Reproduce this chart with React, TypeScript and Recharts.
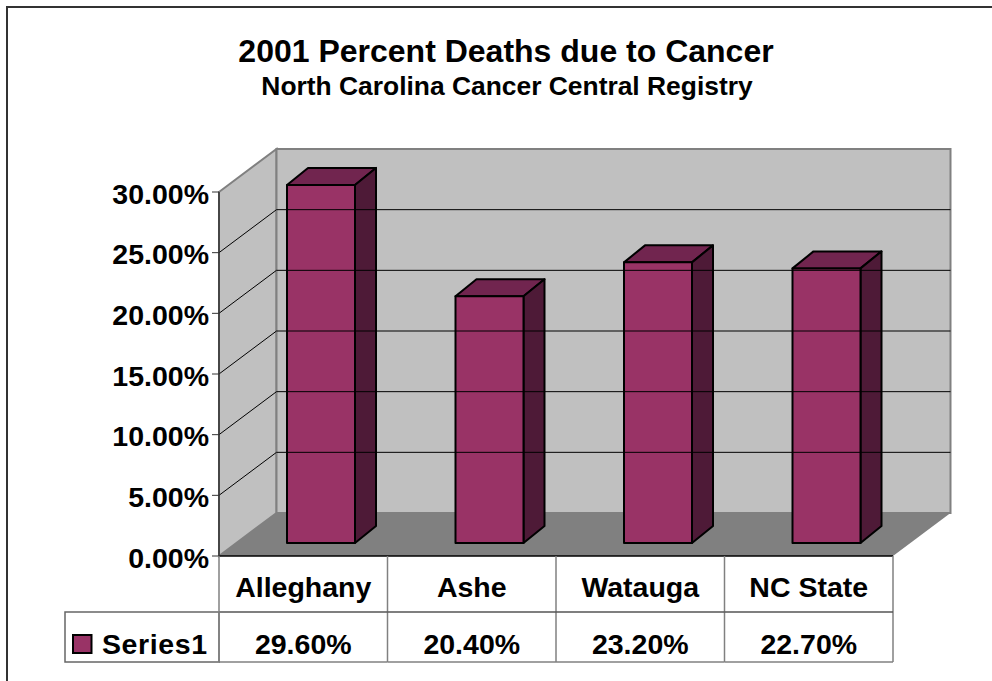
import { BarChart, Bar, XAxis, YAxis, ReferenceArea, ReferenceLine } from 'recharts';

const categories = ['Alleghany', 'Ashe', 'Watauga', 'NC State'];
const seriesValues = [0.296, 0.204, 0.232, 0.227];
const valueTicks = [0, 0.05, 0.1, 0.15, 0.2, 0.25, 0.3];
const seriesName = 'Series1';

const data = categories.map((name, i) => ({ name, value: seriesValues[i] }));

const FONT = '"Liberation Sans", Arial, sans-serif';
const pct = (v: number) => `${(v * 100).toFixed(2)}%`;

// fake 3d depth of the box, and where the bars sit inside of it
const DX = 57.5;
const DY = 43;
const BAR_DX = 18;
const BAR_DY = 13;
const BAR_DEPTH_X = 21;
const BAR_DEPTH_Y = 17;
// bars sit deeper than the front plane so they come out a touch shorter
const BAR_FORESHORTEN = 0.997;

const ROW1_H = 56;
const ROW2_H = 50;
const TABLE_LEFT = 65;

function WallsShape({ x, y, width, height }: any) {
  const bottom = y + height;
  const right = x + width;
  return (
    <g>
      <polygon points={`${x},${y} ${x + DX},${y - DY} ${x + DX},${bottom - DY} ${x},${bottom}`} fill="#c0c0c0" stroke="#808080" strokeWidth={2} />
      <rect x={x + DX} y={y - DY} width={width} height={height} fill="#c0c0c0" stroke="#808080" strokeWidth={2} />
      <polygon points={`${x},${bottom} ${right},${bottom} ${right + DX},${bottom - DY} ${x + DX},${bottom - DY}`} fill="#808080" />
    </g>
  );
}

function GridShape({ x1, y1, x2 }: any) {
  return (
    <polyline
      points={`${x1},${y1} ${x1 + DX},${y1 - DY} ${x2 + DX},${y1 - DY}`}
      fill="none"
      stroke="#000"
      strokeWidth={1}
    />
  );
}

function Bar3D({ x, y, width, height }: any) {
  const h = height * BAR_FORESHORTEN;
  const l = x + BAR_DX;
  const b = y + height - BAR_DY;
  const t = b - h;
  const r = l + width;
  return (
    <g stroke="#000" strokeWidth={2} strokeLinejoin="round">
      <polygon points={`${l},${t} ${l + BAR_DEPTH_X},${t - BAR_DEPTH_Y} ${r + BAR_DEPTH_X},${t - BAR_DEPTH_Y} ${r},${t}`} fill="#71254f" />
      <polygon points={`${r},${t} ${r + BAR_DEPTH_X},${t - BAR_DEPTH_Y} ${r + BAR_DEPTH_X},${b - BAR_DEPTH_Y} ${r},${b}`} fill="#4e1a37" />
      <rect x={l} y={t} width={width} height={h} fill="#993366" />
    </g>
  );
}

function TableTick({ x, y, payload, index, band }: any) {
  const left = x - band / 2;
  const right = x + band / 2;
  const textProps = { fontFamily: FONT, fontWeight: 700, fontSize: 28.5, fill: '#000', textAnchor: 'middle' as const };
  return (
    <g>
      <text {...textProps} x={x} y={y + 41}>{payload.value}</text>
      <text {...textProps} x={x} y={y + 98}>{pct(seriesValues[index])}</text>
      <line x1={right} y1={y} x2={right} y2={y + ROW1_H + ROW2_H} stroke="#808080" strokeWidth={1.5} />
      <line x1={left} y1={y + ROW1_H} x2={right} y2={y + ROW1_H} stroke="#555" strokeWidth={1.5} />
      <line x1={left} y1={y + ROW1_H + ROW2_H} x2={right} y2={y + ROW1_H + ROW2_H} stroke="#808080" strokeWidth={1.5} />
      {index === 0 && (
        <g>
          <rect
            x={TABLE_LEFT}
            y={y + ROW1_H}
            width={left - TABLE_LEFT}
            height={ROW2_H}
            fill="none"
            stroke="#666"
            strokeWidth={1.5}
          />
          <line x1={left} y1={y} x2={left} y2={y + ROW1_H + ROW2_H} stroke="#808080" strokeWidth={1.5} />
          <rect x={73} y={y + 79} width={18.5} height={18} fill="#993366" stroke="#000" strokeWidth={2} />
          <text {...textProps} textAnchor="start" letterSpacing={0.6} x={102} y={y + 98}>{seriesName}</text>
        </g>
      )}
    </g>
  );
}

export default function App() {
  const band = 674 / categories.length;
  return (
    <div style={{ position: 'absolute', left: 0, top: 0, width: 992, height: 681, background: '#fff', overflow: 'hidden' }}>
      <div style={{ position: 'absolute', left: 6, top: 6, width: 1000, height: 700, border: '2px solid #333', boxSizing: 'border-box' }} />
      <div style={{ position: 'absolute', left: 0, top: 34, width: 1012, textAlign: 'center', fontFamily: FONT, fontWeight: 700, fontSize: 32, color: '#000', lineHeight: '34px' }}>
        2001 Percent Deaths due to Cancer
      </div>
      <div style={{ position: 'absolute', left: 0, top: 72, width: 1014, textAlign: 'center', fontFamily: FONT, fontWeight: 700, fontSize: 26.4, color: '#000', lineHeight: '28px' }}>
        North Carolina Cancer Central Registry
      </div>
      <BarChart
        width={992}
        height={681}
        data={data}
        margin={{ top: 192, right: 99, bottom: 0, left: 0 }}
        style={{ position: 'absolute', left: 0, top: 0 }}
      >
        <XAxis
          dataKey="name"
          axisLine={{ stroke: '#000', strokeWidth: 1.5 }}
          tickLine={false}
          tickSize={0}
          height={125}
          interval={0}
          tick={(p: any) => <TableTick {...p} band={band} />}
          tickMargin={0}
        />
        <YAxis
          domain={[0, 0.3]}
          ticks={valueTicks}
          tickFormatter={pct}
          width={219}
          axisLine={{ stroke: '#333', strokeWidth: 1.5 }}
          tickLine={{ stroke: '#333', strokeWidth: 1 }}
          tickSize={7}
          tickMargin={3}
          tick={{ fontFamily: FONT, fontWeight: 700, fontSize: 28.5, fill: '#000', dy: 1.5 }}
          interval={0}
        />
        <ReferenceArea y1={0} y2={0.3} shape={<WallsShape />} ifOverflow="visible" />
        {valueTicks.slice(1, -1).map((t) => (
          <ReferenceLine key={t} y={t} shape={<GridShape />} ifOverflow="visible" />
        ))}
        <Bar dataKey="value" barSize={68} isAnimationActive={false} shape={<Bar3D />} />
      </BarChart>
    </div>
  );
}
